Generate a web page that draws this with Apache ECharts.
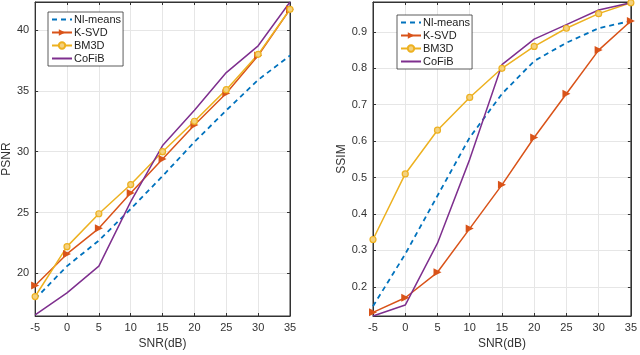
<!DOCTYPE html>
<html>
<head>
<meta charset="utf-8">
<script src="https://cdn.jsdelivr.net/npm/echarts@6/dist/echarts.min.js"></script>
<style>
  html, body { margin: 0; padding: 0; background: #fff; }
  #chart { width: 640px; height: 355px; }
</style>
</head>
<body>
<div id="chart"></div>
<script>
// x 轴 SNR(dB)
var snr = [-5, 0, 5, 10, 15, 20, 25, 30, 35]
var names = ['Nl-means', 'K-SVD', 'BM3D', 'CoFiB']

// PSNR
var psnrNl = [17.9, 20.6, 22.7, 25.3, 28.0, 30.8, 33.4, 35.9, 37.9]
var psnrKsvd = [19.0, 21.6, 23.7, 26.6, 29.4, 32.2, 34.8, 37.9, 41.7]
var psnrBm3d = [18.1, 22.2, 24.9, 27.3, 30.0, 32.5, 35.1, 38.0, 41.7]
var psnrCofib = [16.6, 18.4, 20.6, 25.9, 30.5, 33.4, 36.5, 38.7, 42.3]

// SSIM
var ssimNl = [0.147, 0.29, 0.45, 0.61, 0.73, 0.82, 0.87, 0.91, 0.93]
var ssimKsvd = [0.13, 0.17, 0.24, 0.36, 0.48, 0.61, 0.73, 0.85, 0.93]
var ssimBm3d = [0.33, 0.51, 0.63, 0.72, 0.80, 0.86, 0.91, 0.95, 0.98]
var ssimCofib = [0.12, 0.15, 0.32, 0.55, 0.81, 0.88, 0.92, 0.96, 0.98]

var colors = ['#0072BD', '#D95319', '#EDB120', '#7E2F8E']
var font = 'Liberation Sans, Arial, sans-serif'

function pairs(ys) {
  return snr.map(function (x, i) { return [x, ys[i]] })
}

function makeSeries(i, ys, gi) {
  var name = names[i]
  var c = colors[i]
  var s = {
    name: name,
    type: 'line',
    xAxisIndex: gi * 2,
    yAxisIndex: gi * 2,
    data: pairs(ys),
    animation: false,
    color: c,
    lineStyle: { width: 1.5, color: c },
    itemStyle: { color: c },
    showSymbol: false,
    symbol: 'none'
  }
  if (name === 'Nl-means') {
    s.lineStyle = { width: 1.8, color: c, type: [5, 4] }
  }
  if (name === 'K-SVD') {
    s.showSymbol = true
    s.symbol = 'triangle'
    s.symbolRotate = -90
    s.symbolSize = 8
  }
  if (name === 'BM3D') {
    s.showSymbol = true
    s.symbol = 'circle'
    s.symbolSize = 6
    s.itemStyle = { color: '#F4D17E', borderColor: c, borderWidth: 1.2 }
  }
  return s
}

function xAx(gi, pos) {
  return {
    type: 'value', gridIndex: gi, position: pos,
    min: -5, max: 35, interval: 5,
    name: pos === 'bottom' ? 'SNR(dB)' : '',
    nameLocation: 'middle', nameGap: 21,
    nameTextStyle: { color: '#333', fontSize: 12, fontFamily: font },
    axisLine: { onZero: false, lineStyle: { color: '#333', width: 1 } },
    axisTick: { inside: true, length: 3, lineStyle: { color: '#333' } },
    axisLabel: { show: pos === 'bottom', color: '#333', fontSize: 11, fontFamily: font, margin: 6 },
    splitLine: { show: pos === 'bottom', lineStyle: { color: '#e6e6e6' } }
  }
}

function yAx(gi, pos, min, max, step, nm) {
  return {
    type: 'value', gridIndex: gi, position: pos,
    min: min, max: max, minInterval: step, maxInterval: step,
    name: pos === 'left' ? nm : '',
    nameLocation: 'middle', nameGap: gi === 0 ? 19 : 19, nameRotate: 90,
    nameTextStyle: { color: '#333', fontSize: 12, fontFamily: font },
    axisLine: { onZero: false, lineStyle: { color: '#333', width: 1 } },
    axisTick: { inside: true, length: 3, lineStyle: { color: '#333' } },
    axisLabel: { show: pos === 'left', color: '#333', fontSize: 11, fontFamily: font, margin: 6,
      showMinLabel: false, showMaxLabel: false },
    splitLine: { show: pos === 'left', lineStyle: { color: '#e6e6e6' } }
  }
}

function legendAt(left, top) {
  return {
    data: names.map(function (n) {
      // 无标记的线去掉图例里的圆点
      if (n === 'Nl-means' || n === 'CoFiB') return { name: n, itemStyle: { opacity: 0 } }
      return { name: n }
    }),
    orient: 'vertical',
    left: left, top: top,
    padding: [2, 2, 2, 3],
    itemGap: 2,
    itemWidth: 20, itemHeight: 8,
    backgroundColor: '#fff',
    borderColor: '#333', borderWidth: 0.8, borderRadius: 0,
    textStyle: { color: '#222', fontSize: 11, fontFamily: font, padding: [0, 0, 0, -3] },
    selectedMode: false
  }
}

var chart = echarts.init(document.getElementById('chart'))

var psnrAll = [psnrNl, psnrKsvd, psnrBm3d, psnrCofib]
var ssimAll = [ssimNl, ssimKsvd, ssimBm3d, ssimCofib]
var series = []
names.forEach(function (n, i) { series.push(makeSeries(i, psnrAll[i], 0)) })
names.forEach(function (n, i) { series.push(makeSeries(i, ssimAll[i], 1)) })

chart.setOption({
  color: colors,
  animation: false,
  grid: [
    { left: 29, right: 350, top: 2, bottom: 39, show: true, borderColor: '#333', borderWidth: 1 },
    { left: 373, right: 6, top: 2, bottom: 39, show: true, borderColor: '#333', borderWidth: 1 }
  ],
  xAxis: [xAx(0, 'bottom'), xAx(0, 'top'), xAx(1, 'bottom'), xAx(1, 'top')],
  yAxis: [
    yAx(0, 'left', 16.5, 42.3, 5, 'PSNR'), yAx(0, 'right', 16.5, 42.3, 5, ''),
    yAx(1, 'left', 0.12, 0.982, 0.1, 'SSIM'), yAx(1, 'right', 0.12, 0.982, 0.1, '')
  ],
  legend: [legendAt(48, 12), legendAt(397, 15)],
  series: series
})
</script>
</body>
</html>
